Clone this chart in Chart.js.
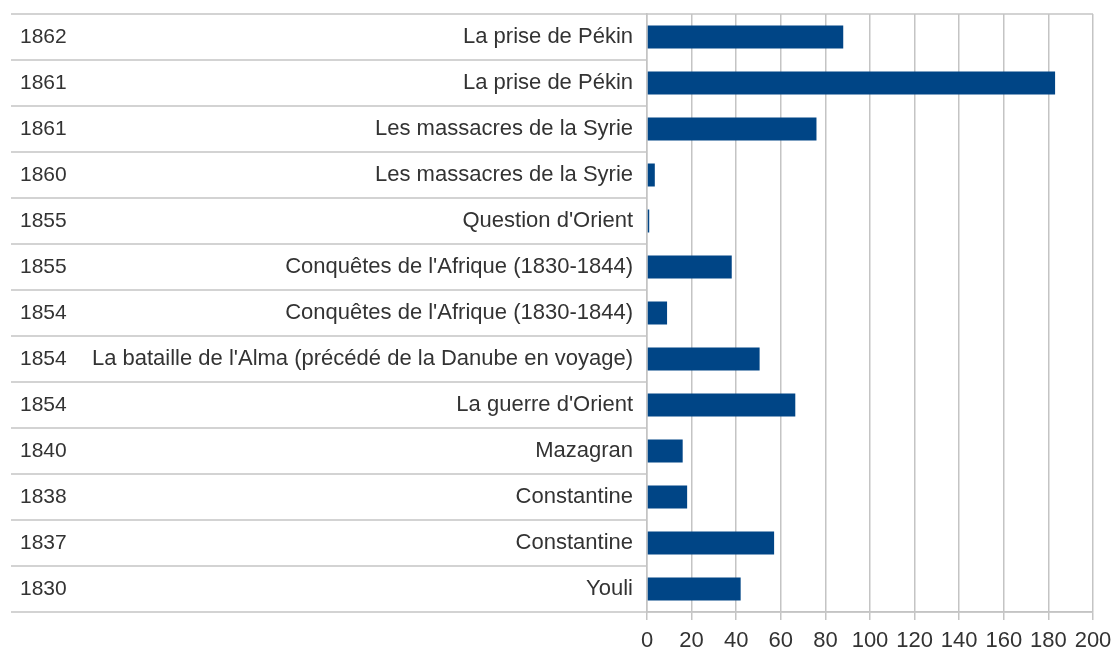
<!DOCTYPE html>
<html lang="fr">
<head>
    <meta charset="UTF-8">
    <title>Spectacles</title>
    <script src="https://cdn.jsdelivr.net/npm/chart.js"></script>
    <style>
        body { margin: 0; background: #fff; }
        .wrap { width: 1113px; height: 649px; position: relative; }
    </style>
</head>
<body>
    <div class="wrap"><canvas id="chart"></canvas></div>

    <script>
        // rows from top to bottom
        const years = ['1862', '1861', '1861', '1860', '1855', '1855', '1854', '1854', '1854', '1840', '1838', '1837', '1830'];
        const titles = [
            'La prise de Pékin',
            'La prise de Pékin',
            'Les massacres de la Syrie',
            'Les massacres de la Syrie',
            "Question d'Orient",
            "Conquêtes de l'Afrique (1830-1844)",
            "Conquêtes de l'Afrique (1830-1844)",
            "La bataille de l'Alma (précédé de la Danube en voyage)",
            "La guerre d'Orient",
            'Mazagran',
            'Constantine',
            'Constantine',
            'Youli'
        ];
        const values = [88, 183, 76, 3.5, 1, 38, 9, 50.5, 66.5, 16, 18, 57, 42];

        const gridColor = '#c4c4c4';
        const textColor = '#333333';
        const font = { family: "'Liberation Sans', Arial, sans-serif", size: 22 };
        const yearFont = { family: "'Liberation Sans', Arial, sans-serif", size: 21 };

        // row separators across the label columns
        const rowLines = {
            id: 'rowLines',
            beforeDatasetsDraw(chart) {
                const ctx = chart.ctx;
                const y = chart.scales.y;
                const y2 = chart.scales.y2;
                const area = chart.chartArea;
                const step = y.getPixelForValue(1) - y.getPixelForValue(0);
                const x0 = y2.left - 9;
                ctx.save();
                ctx.strokeStyle = gridColor;
                ctx.lineWidth = 1.5;
                for (let i = 0; i <= titles.length; i++) {
                    const py = y.getPixelForValue(i) - step / 2;
                    const edge = (i === 0 || i === titles.length);
                    ctx.beginPath();
                    ctx.moveTo(x0, py);
                    ctx.lineTo(edge ? area.right : area.left, py);
                    ctx.stroke();
                }
                ctx.restore();
            }
        };

        // category rows fill the whole height, no extra room for half labels
        function noVertPadding(scale) {
            scale.paddingTop = 0;
            scale.paddingBottom = 0;
        }

        new Chart(document.getElementById('chart'), {
            type: 'bar',
            data: {
                labels: titles,
                datasets: [{
                    data: values,
                    backgroundColor: '#004586',
                    borderWidth: 0,
                    barPercentage: 0.5,
                    categoryPercentage: 1.0
                }]
            },
            options: {
                indexAxis: 'y',
                responsive: true,
                maintainAspectRatio: false,
                animation: false,
                layout: { padding: { top: 14, left: 20, right: 0, bottom: 0 } },
                plugins: {
                    legend: { display: false },
                    tooltip: { enabled: false }
                },
                scales: {
                    x: {
                        min: 0,
                        max: 200,
                        ticks: {
                            stepSize: 20, color: textColor, font: font, padding: 8,
                            maxRotation: 0, minRotation: 0, autoSkip: false
                        },
                        grid: { color: gridColor, lineWidth: 1.5, tickLength: 8, tickColor: gridColor },
                        border: { color: gridColor, width: 1.5 },
                        // labels run slightly off the bottom edge, as in the original
                        afterFit(scale) {
                            scale.height = 37;
                            scale.paddingRight = 20;
                        }
                    },
                    y: {
                        position: 'left',
                        weight: 0,
                        ticks: { color: textColor, font: font, padding: 14 },
                        grid: { display: false, drawTicks: false },
                        border: { color: gridColor, width: 1.5 },
                        afterFit(scale) { scale.width = 561; noVertPadding(scale); }
                    },
                    y2: {
                        type: 'category',
                        position: 'left',
                        weight: 1,
                        labels: years,
                        offset: true,
                        ticks: { color: textColor, font: yearFont, crossAlign: 'far', padding: 0 },
                        grid: { display: false, drawTicks: false },
                        border: { display: false },
                        afterFit(scale) { scale.width = 66; noVertPadding(scale); }
                    }
                }
            },
            plugins: [rowLines]
        });
    </script>
</body>
</html>
